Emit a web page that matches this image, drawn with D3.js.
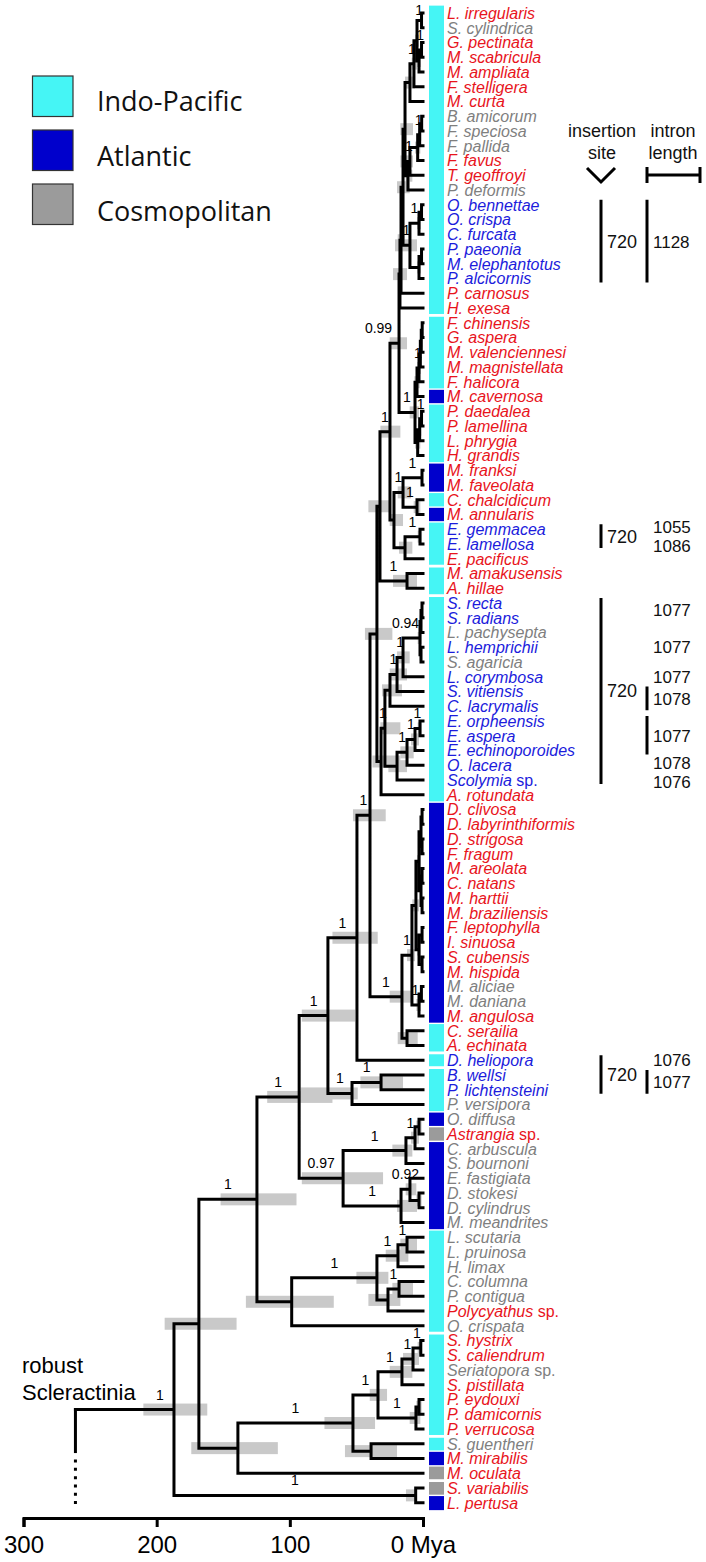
<!DOCTYPE html>
<html><head><meta charset="utf-8">
<script src="https://cdn.jsdelivr.net/npm/d3@7"></script>
<style>body{margin:0;background:#fff}svg{display:block}</style>
</head><body>
<svg id="chart" width="706" height="1562"></svg>
<script>
// ---------------- DATA ----------------
const tipNames = ["L. irregularis","S. cylindrica","G. pectinata","M. scabricula","M. ampliata","F. stelligera","M. curta","B. amicorum","F. speciosa","F. pallida","F. favus","T. geoffroyi","P. deformis","O. bennettae","O. crispa","C. furcata","P. paeonia","M. elephantotus","P. alcicornis","P. carnosus","H. exesa",
"F. chinensis","G. aspera","M. valenciennesi","M. magnistellata","F. halicora","M. cavernosa","P. daedalea","P. lamellina","L. phrygia","H. grandis","M. franksi","M. faveolata","C. chalcidicum","M. annularis","E. gemmacea","E. lamellosa","E. pacificus","M. amakusensis","A. hillae",
"S. recta","S. radians","L. pachysepta","L. hemprichii","S. agaricia","L. corymbosa","S. vitiensis","C. lacrymalis","E. orpheensis","E. aspera","E. echinoporoides","O. lacera","Scolymia sp.","A. rotundata",
"D. clivosa","D. labyrinthiformis","D. strigosa","F. fragum","M. areolata","C. natans","M. harttii","M. braziliensis","F. leptophylla","I. sinuosa","S. cubensis","M. hispida","M. aliciae","M. daniana","M. angulosa","C. serailia","A. echinata",
"D. heliopora","B. wellsi","P. lichtensteini","P. versipora","O. diffusa","Astrangia sp.","C. arbuscula","S. bournoni","E. fastigiata","D. stokesi","D. cylindrus","M. meandrites","L. scutaria","L. pruinosa","H. limax","C. columna","P. contigua","Polycyathus sp.","O. crispata",
"S. hystrix","S. caliendrum","Seriatopora sp.","S. pistillata","P. eydouxi","P. damicornis","P. verrucosa","S. guentheri","M. mirabilis","M. oculata","S. variabilis","L. pertusa"];
// name colour: r = red, b = blue, g = grey
const nameClass = ("rgrrrrrgggrrgbbbbbbrr" + "rrrrrrrrrrrrrrbbrrr" + "bbgbgbbbbbbbbr" + "rrrrrrrrrrrrggrrr" + "bbbggrgggggggggggrg" + "rrgrrrrgrrrr").split("");
// geography: I = Indo-Pacific, A = Atlantic, C = Cosmopolitan
const geo = ("IIIIIIIIIIIIIIIIIIIII" + "IIIIIAIIIIAAIAIIIII" + "IIIIIIIIIIIIII" + "AAAAAAAAAAAAAAAII" + "IIIIACAAAAAAIIIIIII" + "IIIIIIIIACCA").split("");
const barBreaks = [21, 38, 40, 71, 72, 90, 97, 100]; // white gap after these tips (1-based)

// internal nodes: [id, parent, age (Mya), posterior, HPD low, HPD high]
const nodes = [
["R","",187,"1",162,210],
["A","R",168.3,"",140,194],
["SL","R",5.5,"1",4.5,12.8],
["B","A",124.7,"1",95,152],
["C","A",139,"",109,174],
["C1","C",52.6,"1",36,74],
["C2","C1",33.8,"1",27,40],
["C3","C2",15.8,"1",8,25],
["C4","C3",7.5,"1",3,15],
["C5","C4",1.7,"1",0.5,4],
["C6","C2",5.3,"1",2,10],
["C7","C6",3,"",1,5],
["C8","C1",39,"",19.5,58.6],
["D","B",93,"1",68,117],
["E","B",98.6,"",67,133],
["E1","E",34.6,"1",26,50],
["E2","E1",18.8,"1",11,28],
["E3","E2",12,"1",4.5,17],
["E4","E1",26.3,"",17,41],
["E5","E4",18,"1",7.5,23],
["F","D",71.4,"1",51,91],
["G","D",60,"0.97",30,91],
["G1","G",12.8,"1",8,23],
["G2","G1",6,"1",3,9],
["G3","G2",3,"",1,5],
["G4","G",16.5,"1",4.5,19.5],
["G5","G4",9.8,"0.92",5,13],
["G6","G5",3,"",1,5],
["H","F",49.6,"1",34,68],
["H1","F",53.3,"1",49,92],
["H2","H1",31.5,"1",15,47],
["I","H",39.8,"1",28,52.6],
["J","I",15.8,"1",8,25],
["J1","J",12,"",4,19],
["K","J",8.3,"1",6,12],
["K1","K",5.3,"",3,8],
["K3","K1",3,"",1.5,4.5],
["K3a","K3",1.5,"",0.8,2.2],
["K3c","K3",1.5,"",0.8,2.2],
["K5","K3a",0.7,"",0.3,1.1],
["K6","K3a",0.7,"",0.3,1.1],
["K7","K3c",0.7,"",0.3,1.1],
["K8","K3c",0.7,"",0.3,1.1],
["K4","K1",3,"",1.5,4.5],
["K9","K4",0.7,"",0.3,1.1],
["K10","K4",0.7,"",0.3,1.1],
["K2","K",3,"1",1.5,5],
["K2a","K2",1.2,"",0.5,2],
["L","I",34.6,"",23,43.6],
["M","L",32.3,"",25,41],
["N","M",24.8,"1",17,32],
["O","N",18,"0.99",12,25],
["Q","O",17.3,"",12,22.5],
["Q1","Q",16.5,"",14,19],
["Q2","Q1",15,"",10,19.5],
["Q3","Q2",13.5,"",7.5,17],
["Q5","Q3",9.8,"",6,13.5],
["Q5a","Q5",6.8,"1",4.5,8.5],
["Q5b","Q5a",4.5,"",3,6],
["Q5c","Q5b",1.1,"1",0.4,2],
["Q5d","Q5b",3,"",1.5,4.5],
["Q5e","Q5d",1.1,"1",0.4,2],
["Q6","Q3",11.3,"",8,13],
["Q6a","Q6",9.8,"1",7.5,17],
["Q6b","Q6a",4,"",2,6],
["Q6c","Q6b",2.5,"1",1.2,3.8],
["Q6d","Q6c",1,"",0.4,1.8],
["Q4","Q2",9.8,"1",4.5,21],
["Q4a","Q4",3,"1",1.5,4.5],
["Q4b","Q4a",1.1,"",0.4,2],
["Q4c","Q4",3,"",1.5,4.5],
["Q4d","Q4c",1.1,"",0.4,2],
["S","O",6,"1",3,10],
["S1","S",4.5,"",2.5,6.5],
["S2","S1",3,"1",1.5,4.5],
["S3","S2",2,"",1,3],
["S4","S3",1.3,"",0.5,2],
["S5","S4",0.6,"",0.2,1],
["S6","S",4,"",2,6],
["S7","S6",2.5,"",1.2,3.8],
["S8","S7",1.1,"1",0.4,2],
["P","N",21.8,"",15,25],
["P1","P",15,"1",9,19],
["P1a","P1",0.75,"1",0.3,1.5],
["P1b","P1",4.5,"1",2,7],
["P2","P",13.5,"",8,18],
["P2a","P2",2.25,"1",1,4],
["MA","M",12,"1",4.5,22.5],
["LS","L",31.5,"",17,38],
["LS1","LS",28.6,"1",17,32],
["LS2b","LS1",24.8,"",15.8,30.8],
["LS3","LS2b",19.5,"1",12,25],
["LS4","LS3",15,"1",10,19.5],
["LS5","LS4",2.25,"0.94",1,4],
["LS6","LS5",1.5,"",0.6,2.5],
["LS7","LS6",0.75,"",0.3,1.3],
["LS8","LS5",1.5,"",0.6,2.5],
["EC4","LS1",19.5,"",12,26],
["EC3","EC4",12,"1",7,17],
["EC2","EC3",6,"1",3,9],
["EC1","EC2",2.25,"1",1,4]
];
const tipParent = ["Q5c","Q5c","Q5e","Q5e","Q5d","Q5a","Q5","Q6d","Q6d","Q6c","Q6b","Q6a","Q6","Q4b","Q4b","Q4a","Q4d","Q4d","Q4c","Q1","Q",
"S5","S5","S4","S3","S2","S1","S8","S8","S7","S6","P1a","P1a","P1b","P1b","P2a","P2a","P2","MA","MA",
"LS7","LS7","LS6","LS8","LS8","LS4","LS3","LS2b","EC1","EC1","EC2","EC3","EC4","LS",
"K5","K5","K6","K6","K7","K7","K8","K8","K9","K9","K10","K10","K2a","K2a","K2","J1","J1",
"H","H2","H2","H1","G3","G3","G2","G1","G5","G6","G6","G4","E3","E3","E2","E5","E5","E4","E",
"C5","C5","C4","C3","C7","C7","C6","C8","C8","C","SL","SL"];
const rootStemAge = 261;

const axisTicks = [300, 200, 100, 0];
const axisTickLabels = ["300", "200", "100", "0 Mya"];
const legendLabels = ["Indo-Pacific", "Atlantic", "Cosmopolitan"];
const legendKeys = ["I", "A", "C"];

// insertion-site bars: [first tip, last tip, label] (1-based)
const insertionSites = [[14,19,"720"],[36,37,"720"],[41,53,"720"],[72,74,"720"]];
// intron lengths: [first tip, last tip, label, bar]
const intronLengths = [[14,19,"1128",1],[36,36,"1055",0],[37,37,"1086",0],[41,42,"1077",0],[44,44,"1077",0],[46,46,"1077",0],[47,48,"1078",1],[49,51,"1077",1],[52,52,"1078",0],[53,53,"1076",0],[72,72,"1076",0],[73,74,"1077",1]];

// ---------------- STYLE ----------------
const geoColor = {I:"#45f5f5", A:"#0000cc", C:"#9b9b9b"};
const nameColor = {r:"#e8141c", b:"#1c1cdc", g:"#7f7f7f"};
const FONT = "'Liberation Sans', Arial, sans-serif";
const labelShift = {O:-16, LS5:-6}; // hand-placed branch labels in the original figure

const svg = d3.select("#chart");
const xScale = d3.scaleLinear().domain([300, 0]).range([23.5, 423]);
const yScale = d3.scaleLinear().domain([0, tipNames.length - 1]).range([13, 1502.75]);
const rowH = yScale(1) - yScale(0);

// hierarchy
const rows = nodes.map(r => ({id:r[0], parent:r[1] || null, age:r[2], post:r[3], lo:r[4], hi:r[5]}))
  .concat(tipNames.map((n, i) => ({id:"t" + i, parent:tipParent[i], age:0, tip:i})));
const root = d3.stratify().id(d => d.id).parentId(d => d.parent)(rows);
root.eachAfter(n => {
  n.px = xScale(n.data.age);
  if (n.children) {
    const ys = n.children.map(c => c.py);
    n.py = (d3.min(ys) + d3.max(ys)) / 2;
  } else n.py = yScale(n.data.tip);
});

// HPD bars
const gH = svg.append("g");
root.descendants().filter(n => n.children && n.data.hi != null).forEach(n => {
  gH.append("rect").attr("x", xScale(n.data.hi)).attr("width", xScale(n.data.lo) - xScale(n.data.hi))
    .attr("y", n.py - 6).attr("height", 12).attr("fill", "#c9c9c9");
});

// branches
const gL = svg.append("g").attr("stroke", "#000").attr("stroke-width", 3).attr("fill", "none").attr("stroke-linecap", "square");
let dStr = "";
root.descendants().forEach(n => {
  if (n.parent) dStr += `M${n.parent.px},${n.py}H${n.px}`;
  if (n.children) {
    const ys = n.children.map(c => c.py);
    dStr += `M${n.px},${d3.min(ys)}V${d3.max(ys)}`;
  }
});
dStr += `M${xScale(rootStemAge)},${root.py}H${root.px}`;
gL.append("path").attr("d", dStr);
gL.append("path").attr("d", `M${xScale(rootStemAge)},${root.py}V${root.py + 42}`);
gL.append("path").attr("d", `M${xScale(rootStemAge)},${root.py + 50}V${root.py + 96}`)
  .attr("stroke-dasharray", "3,5.3").attr("stroke-linecap", "butt");

// posterior labels
const gP = svg.append("g").attr("font-family", FONT).attr("font-size", 14).attr("text-anchor", "middle").attr("fill", "#000");
root.descendants().filter(n => n.data.post).forEach(n => {
  const x = (n.parent ? (n.parent.px + n.px) / 2 : xScale(n.data.age + 10.5)) + (labelShift[n.id] || 0);
  gP.append("text").attr("x", x).attr("y", Math.max(15, n.py - 10)).text(n.data.post);
});

// geography bar
const gB = svg.append("g");
let runs = [];
geo.forEach((g, i) => {
  const last = runs[runs.length - 1];
  if (last && last.g === g && !barBreaks.includes(i)) last.end = i;
  else runs.push({g, start:i, end:i});
});
runs.forEach((r, k) => {
  const topGap = k === 0 ? 0 : (barBreaks.includes(r.start) ? 1.4 : 0.7);
  const botGap = k === runs.length - 1 ? 0 : (barBreaks.includes(r.end + 1) ? 1.4 : 0.7);
  const y0 = yScale(r.start) - rowH / 2 + topGap, y1 = yScale(r.end) + rowH / 2 - botGap;
  gB.append("rect").attr("x", 429).attr("width", 15).attr("y", y0).attr("height", y1 - y0).attr("fill", geoColor[r.g]);
});

// tip labels
const gT = svg.append("g").attr("font-family", FONT).attr("font-size", 16);
tipNames.forEach((name, i) => {
  const t = gT.append("text").attr("x", 447).attr("y", yScale(i)).attr("dy", "0.36em").attr("fill", nameColor[nameClass[i]]);
  if (name.endsWith(" sp.")) {
    t.append("tspan").attr("font-style", "italic").text(name.slice(0, -4));
    t.append("tspan").text(" sp.");
  } else t.append("tspan").attr("font-style", "italic").text(name);
});

// axis
const axis = d3.axisBottom(xScale).tickValues(axisTicks).tickFormat((d, i) => axisTickLabels[i]).tickSize(9).tickPadding(9);
const gA = svg.append("g").attr("transform", "translate(0,1518)").call(axis);
gA.select(".domain").attr("stroke-width", 3);
gA.selectAll(".tick line").attr("stroke-width", 3);
gA.selectAll("text").attr("font-size", 24).attr("font-family", FONT).attr("fill", "#000");

// robust Scleractinia
svg.append("text").attr("font-family", FONT).attr("font-size", 22).attr("x", 22).attr("y", 1373)
  .selectAll("tspan").data(["robust", "Scleractinia"]).join("tspan").attr("x", 22).attr("dy", (d, i) => i ? 27 : 0).text(d => d);

// legend
const gLeg = svg.append("g");
legendLabels.forEach((lab, i) => {
  gLeg.append("rect").attr("x", 32.5).attr("y", 76 + i * 54).attr("width", 40.5).attr("height", 40.5)
    .attr("fill", geoColor[legendKeys[i]]).attr("stroke", "#333").attr("stroke-width", 1.2);
  gLeg.append("text").attr("x", 97).attr("y", 111 + i * 55).attr("font-family", "'Open Sans', sans-serif")
    .attr("font-size", 27).attr("fill", "#111").text(lab);
});

// annotation headers
const gN = svg.append("g").attr("font-family", FONT).attr("font-size", 18).attr("fill", "#111");
gN.append("text").attr("x", 602).attr("y", 137).attr("text-anchor", "middle").text("insertion");
gN.append("text").attr("x", 602).attr("y", 159).attr("text-anchor", "middle").text("site");
gN.append("text").attr("x", 673).attr("y", 137).attr("text-anchor", "middle").text("intron");
gN.append("text").attr("x", 673).attr("y", 159).attr("text-anchor", "middle").text("length");
const gS = svg.append("g").attr("stroke", "#000").attr("stroke-width", 3).attr("fill", "none");
gS.append("path").attr("d", "M587,168L601,182L615,168");
gS.append("path").attr("d", "M647,175H700M647,167V183M700,167V183");

insertionSites.forEach(([a, b, lab]) => {
  const y0 = yScale(a - 1) - 5, y1 = yScale(b - 1) + 4;
  gS.append("path").attr("d", `M601,${y0}V${y1}`);
  gN.append("text").attr("x", 607).attr("y", (y0 + y1) / 2).attr("dy", "0.36em").text(lab);
});
// adjacent single-row labels are nudged apart slightly, as in the reference
const gN2 = svg.append("g").attr("font-family", FONT).attr("font-size", 17).attr("fill", "#111");
intronLengths.forEach(([a, b, lab, bar], k) => {
  let ym = (yScale(a - 1) + yScale(b - 1)) / 2;
  const prev = intronLengths[k - 1], next = intronLengths[k + 1];
  if (next && next[0] === b + 1 && !bar && !next[3]) ym -= 2;
  if (prev && prev[1] === a - 1 && !bar && !prev[3]) ym += 2;
  if (bar) gS.append("path").attr("d", `M647,${yScale(a - 1) - 5}V${yScale(b - 1) + 4}`);
  gN2.append("text").attr("x", 653).attr("y", ym).attr("dy", "0.36em").text(lab);
});
</script>
</body></html>
